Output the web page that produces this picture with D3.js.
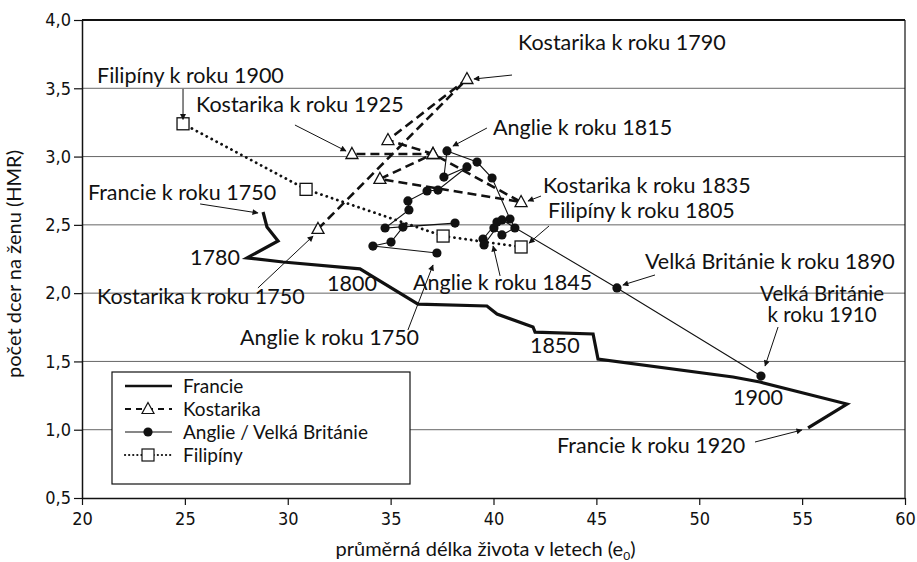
<!DOCTYPE html>
<html>
<head>
<meta charset="utf-8">
<script src="https://cdn.jsdelivr.net/npm/d3@7"></script>
<style>
body { margin: 0; background: #fff; }
svg text { font-family: Lato, "Open Sans", sans-serif; fill: #111; }
.tick text { font-family: "Liberation Sans Narrow", "DejaVu Sans Condensed", sans-serif; font-stretch: condensed; }
</style>
</head>
<body>
<svg class="chart" width="917" height="562"></svg>
<script>
// data (e0 in years, NRR)
var franceX = [28.80, 28.99, 29.53, 28.02, 29.77, 33.51, 36.33, 39.68, 40.17, 41.92, 42.02, 44.84, 45.08, 51.64, 52.95, 57.18, 55.29];
var franceY = [2.594, 2.485, 2.382, 2.258, 2.228, 2.178, 1.920, 1.906, 1.847, 1.752, 1.715, 1.701, 1.518, 1.386, 1.349, 1.188, 1.013];

var costaX = [31.47, 38.71, 34.87, 37.06, 41.34, 34.48, 37.06, 33.12];
var costaY = [2.470, 3.568, 3.121, 3.019, 2.667, 2.836, 3.019, 3.019];

var englandX = [37.25, 34.14, 35.02, 35.60, 38.13, 34.73, 35.89, 35.84, 36.77, 37.30, 38.71, 37.59, 37.74, 39.20, 39.93, 40.80, 41.04, 40.41, 40.02, 40.17, 39.49, 39.54, 40.41, 46.00, 53.00];
var englandY = [2.294, 2.345, 2.374, 2.484, 2.513, 2.477, 2.609, 2.675, 2.748, 2.755, 2.924, 2.850, 3.041, 2.960, 2.843, 2.543, 2.477, 2.426, 2.477, 2.521, 2.396, 2.353, 2.536, 2.038, 1.393];

var philX = [41.34, 37.55, 30.89, 24.91];
var philY = [2.338, 2.418, 2.760, 3.240];

var xTicks = [20, 25, 30, 35, 40, 45, 50, 55, 60];
var yTicks = [0.5, 1.0, 1.5, 2.0, 2.5, 3.0, 3.5, 4.0];

// annotations: text, text position (data units), arrow from -> to
var labels = [
  { t: "Filipíny k roku 1900", x: 20.73, y: 3.539, a: [24.91, 3.495, 24.91, 3.272] },
  { t: "Kostarika k roku 1925", x: 25.54, y: 3.326, a: [30.35, 3.231, 32.83, 3.041] },
  { t: "Kostarika k roku 1790", x: 41.19, y: 3.780, a: [40.90, 3.597, 39.05, 3.568] },
  { t: "Anglie k roku 1815", x: 39.98, y: 3.158, a: [39.68, 3.209, 38.03, 3.077] },
  { t: "Kostarika k roku 1835", x: 42.41, y: 2.733, a: [42.31, 2.711, 41.68, 2.675] },
  { t: "Filipíny k roku 1805", x: 42.65, y: 2.550, a: [42.70, 2.492, 41.73, 2.367] },
  { t: "Francie k roku 1750", x: 20.29, y: 2.682, a: [25.74, 2.653, 28.55, 2.587] },
  { t: "1780", x: 25.25, y: 2.206 },
  { t: "Kostarika k roku 1750", x: 20.73, y: 1.921, a: [28.55, 2.038, 31.23, 2.418] },
  { t: "1800", x: 31.91, y: 2.016 },
  { t: "Anglie k roku 1845", x: 36.09, y: 2.023, a: [40.32, 2.126, 39.98, 2.345] },
  { t: "Anglie k roku 1750", x: 27.68, y: 1.620, a: [35.84, 1.730, 37.06, 2.206] },
  { t: "Velká Británie k roku 1890", x: 47.36, y: 2.177, a: [47.85, 2.133, 46.29, 2.060] },
  { t: "Velká Británie", x: 55.97, y: 1.946, mid: true },
  { t: "k roku 1910", x: 55.97, y: 1.786, mid: true, a: [53.83, 1.752, 53.20, 1.467] },
  { t: "1850", x: 41.77, y: 1.562 },
  { t: "1900", x: 51.64, y: 1.181 },
  { t: "Francie k roku 1920", x: 43.09, y: 0.830, a: [52.71, 0.910, 54.99, 0.998] }
];

var legendNames = ["Francie", "Kostarika", "Anglie / Velká Británie", "Filipíny"];

var svg = d3.select("svg.chart");
var margin = { top: 20, right: 12, bottom: 64, left: 82 },
    width = 917 - margin.left - margin.right,
    height = 562 - margin.top - margin.bottom;

var g = svg.append("g").attr("transform", "translate(" + margin.left + "," + margin.top + ")");

var x = d3.scaleLinear().domain([20, 60]).range([0, width]);
var y = d3.scaleLinear().domain([0.5, 4]).range([height, 0]);

var comma = d3.formatLocale({ decimal: ",", thousands: " ", grouping: [3], currency: ["", ""] });

// arrowhead
svg.append("defs").append("marker")
  .attr("id", "arr")
  .attr("viewBox", "0 0 10 10")
  .attr("refX", 9).attr("refY", 5)
  .attr("markerWidth", 9).attr("markerHeight", 6)
  .attr("markerUnits", "userSpaceOnUse")
  .attr("orient", "auto")
  .append("path").attr("d", "M0,0L10,5L0,10Z").attr("fill", "#111");

// grid
g.append("g")
  .selectAll("line")
  .data(yTicks.slice(1, -1))
  .enter().append("line")
  .attr("x1", 0).attr("x2", width)
  .attr("y1", d => y(d)).attr("y2", d => y(d))
  .attr("stroke", "#666").attr("stroke-width", 1);

// frame top / right
g.append("line").attr("x1", 0).attr("x2", width).attr("y1", 0).attr("y2", 0).attr("stroke", "#111").attr("stroke-width", 2);
g.append("line").attr("x1", width).attr("x2", width).attr("y1", 0).attr("y2", height).attr("stroke", "#111").attr("stroke-width", 1.2);

// axes
var xAxis = g.append("g").attr("transform", "translate(0," + height + ")")
  .call(d3.axisBottom(x).tickValues(xTicks).tickSize(7).tickPadding(7).tickSizeOuter(0));
var yAxis = g.append("g")
  .call(d3.axisLeft(y).tickValues(yTicks).tickSize(8).tickPadding(3).tickSizeOuter(0).tickFormat(comma.format(".1f")));
g.selectAll(".domain").attr("stroke", "#111").attr("stroke-width", 1.5);
g.selectAll(".tick line").attr("stroke", "#111").attr("stroke-width", 1.2);
yAxis.selectAll(".tick text").style("font-size", "18px");
xAxis.selectAll(".tick text").style("font-size", "18px");

// axis titles
svg.append("text")
  .attr("transform", "translate(21," + (margin.top + height / 2 + 5) + ") rotate(-90)")
  .attr("text-anchor", "middle")
  .style("font-size", "20px")
  .text("počet dcer na ženu (HMR)");

var xt = svg.append("text")
  .attr("x", margin.left + width / 2 - 8).attr("y", 556)
  .attr("text-anchor", "middle")
  .style("font-size", "20px");
xt.append("tspan").text("průměrná délka života v letech (e");
xt.append("tspan").attr("dy", 4).style("font-size", "12px").text("0");
xt.append("tspan").attr("dy", -4).text(")");

// series
var line = d3.line().x(d => x(d[0])).y(d => y(d[1]));
var zip = (a, b) => a.map((v, i) => [v, b[i]]);

var france = zip(franceX, franceY),
    costa = zip(costaX, costaY),
    england = zip(englandX, englandY),
    phil = zip(philX, philY);

g.append("path").datum(phil).attr("d", line)
  .attr("fill", "none").attr("stroke", "#111").attr("stroke-width", 2.8)
  .attr("stroke-dasharray", "0.1,5.5").attr("stroke-linecap", "round");

g.append("path").datum(england).attr("d", line)
  .attr("fill", "none").attr("stroke", "#111").attr("stroke-width", 1.1);

g.append("path").datum(costa).attr("d", line)
  .attr("fill", "none").attr("stroke", "#111").attr("stroke-width", 2.6)
  .attr("stroke-dasharray", "9,5");

g.append("path").datum(france).attr("d", line)
  .attr("fill", "none").attr("stroke", "#111").attr("stroke-width", 3.2)
  .attr("stroke-linejoin", "miter");

var tri = "M0,-6.5L6,4.5L-6,4.5Z";

g.selectAll(".eng").data(england).enter().append("circle")
  .attr("cx", d => x(d[0])).attr("cy", d => y(d[1])).attr("r", 4.6).attr("fill", "#111");

g.selectAll(".cr").data(costa).enter().append("path")
  .attr("d", tri)
  .attr("transform", d => "translate(" + x(d[0]) + "," + y(d[1]) + ")")
  .attr("fill", "#fff").attr("stroke", "#111").attr("stroke-width", 1.3);

g.selectAll(".ph").data(phil).enter().append("rect")
  .attr("x", d => x(d[0]) - 6).attr("y", d => y(d[1]) - 6)
  .attr("width", 12).attr("height", 12)
  .attr("fill", "#fff").attr("stroke", "#111").attr("stroke-width", 1.3);

// annotations
var ann = g.append("g");
ann.selectAll("line").data(labels.filter(d => d.a)).enter().append("line")
  .attr("x1", d => x(d.a[0])).attr("y1", d => y(d.a[1]))
  .attr("x2", d => x(d.a[2])).attr("y2", d => y(d.a[3]))
  .attr("stroke", "#111").attr("stroke-width", 1)
  .attr("marker-end", "url(#arr)");

ann.selectAll("text").data(labels).enter().append("text")
  .attr("x", d => x(d.x)).attr("y", d => y(d.y))
  .attr("text-anchor", d => d.mid ? "middle" : "start")
  .style("font-size", d => d.mid ? "20.5px" : "21.5px")
  .text(d => d.t);

// legend
var lg = svg.append("g").attr("transform", "translate(112,372)");
lg.append("rect").attr("width", 298).attr("height", 112)
  .attr("fill", "#fff").attr("stroke", "#111").attr("stroke-width", 1.2);

var rows = lg.selectAll(".row").data(legendNames).enter().append("g")
  .attr("transform", (d, i) => "translate(0," + (14 + i * 23) + ")");

rows.append("line").attr("x1", 13).attr("x2", 60).attr("y1", 0).attr("y2", 0)
  .attr("stroke", "#111")
  .attr("stroke-width", (d, i) => [2.6, 2, 1.1, 2.2][i])
  .attr("stroke-dasharray", (d, i) => [null, "6,5", null, "0.1,4"][i])
  .attr("stroke-linecap", (d, i) => i == 3 ? "round" : "butt");

rows.filter((d, i) => i == 1).append("path").attr("d", tri)
  .attr("transform", "translate(36,0)").attr("fill", "#fff").attr("stroke", "#111").attr("stroke-width", 1.2);
rows.filter((d, i) => i == 2).append("circle").attr("cx", 36).attr("r", 4.6).attr("fill", "#111");
rows.filter((d, i) => i == 3).append("rect").attr("x", 30).attr("y", -6).attr("width", 12).attr("height", 12)
  .attr("fill", "#fff").attr("stroke", "#111").attr("stroke-width", 1.2);

rows.append("text").attr("x", 71).attr("y", 6.5).style("font-size", "19px").text(d => d);
</script>
</body>
</html>
